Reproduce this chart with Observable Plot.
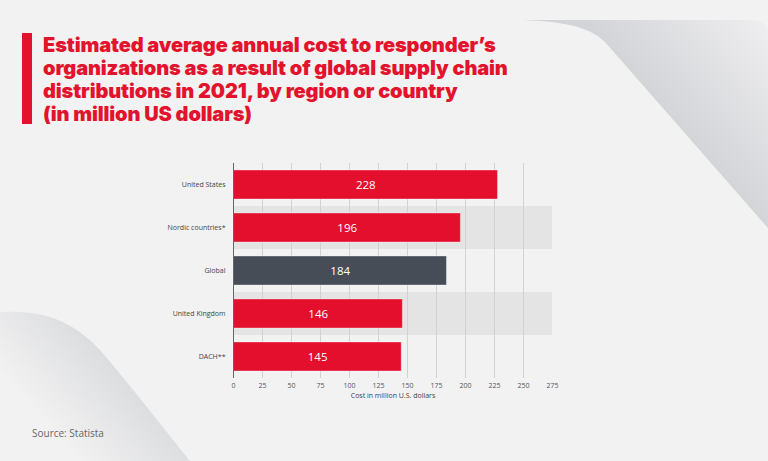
<!DOCTYPE html>
<html>
<head>
<meta charset="utf-8">
<script src="https://cdn.jsdelivr.net/npm/d3@7"></script>
<script src="https://cdn.jsdelivr.net/npm/@observablehq/plot@0.6"></script>
<style>
  html, body { margin: 0; padding: 0; }
  body { width: 768px; height: 461px; background: #f2f2f2; position: relative; overflow: hidden; }
  #bg { position: absolute; left: 0; top: 0; }
  #redbar { position: absolute; left: 22px; top: 33px; width: 10px; height: 91px; background: #e3132d; }
  #title { position: absolute; left: 43px; top: 34px; font-family: Inter, "Noto Sans", sans-serif; font-weight: 900;
    font-size: 20px; line-height: 23px; letter-spacing: -0.12px; color: #e3132d; white-space: nowrap; }
  #chart { position: absolute; left: 0; top: 150px; }
  #source { position: absolute; left: 32px; top: 426px; font-family: "Open Sans", sans-serif; font-size: 10px; color: #666; }
</style>
</head>
<body>
<svg id="bg" width="768" height="461">
  <defs>
    <linearGradient id="g1" gradientUnits="userSpaceOnUse" x1="680" y1="130" x2="790" y2="35">
      <stop offset="0" stop-color="#d3d4d8"/>
      <stop offset="1" stop-color="#f0f0f1"/>
    </linearGradient>
    <linearGradient id="g2" gradientUnits="userSpaceOnUse" x1="130" y1="360" x2="50" y2="430">
      <stop offset="0" stop-color="#d8d9dc"/>
      <stop offset="1" stop-color="#f2f2f2"/>
    </linearGradient>
  </defs>
  <path d="M523,20 C570,22 590,28 605,42 L768,228 L768,36 Q768,20 750,20 Z" fill="url(#g1)"/>
  <path d="M0,312 C40,310 70,318 100,350 C130,385 165,430 190,461 L0,461 Z" fill="url(#g2)"/>
</svg>
<div id="redbar"></div>
<div id="title">Estimated average annual cost to responder’s<br>organizations as a result of global supply chain<br>distributions in 2021, by region or country<br>(in million US dollars)</div>
<div id="chart"></div>
<div id="source">Source: Statista</div>
<script>
const categories = ["United States", "Nordic countries*", "Global", "United Kingdom", "DACH**"];
const values = [228, 196, 184, 146, 145];
const xTicks = [0, 25, 50, 75, 100, 125, 150, 175, 200, 225, 250, 275];
const axisTitle = "Cost in million U.S. dollars";

const data = categories.map((c, i) => ({category: c, value: values[i], highlight: c === "Global", banded: i % 2 === 1}));

const RED = "#e30f2d", GRAY = "#464d57";

const chart = Plot.plot({
  width: 768, height: 260,
  marginLeft: 233, marginRight: 216, marginTop: 13, marginBottom: 32,
  style: {background: "transparent", fontFamily: "'Open Sans', sans-serif", fontSize: "7px", color: "#555"},
  x: {domain: [0, 275], ticks: xTicks, label: null},
  y: {domain: categories, padding: 0, label: null},
  color: {type: "identity"},
  marks: [
    Plot.barX(data.filter(d => d.banded), {y: "category", x1: 0, x2: 275, fill: "#e4e4e4"}),
    Plot.gridX(xTicks.filter(t => t > 0 && t < 275), {stroke: "#d2d2d2", strokeOpacity: 1}),
    Plot.barX(data, {y: "category", x: "value", fill: d => d.highlight ? GRAY : RED, insetTop: 7, insetBottom: 7,
      stroke: "white", strokeOpacity: 0.35, strokeWidth: 1}),
    Plot.text(data, {y: "category", x: d => d.value / 2, text: d => String(d.value), fill: "white", fontSize: 11.5}),
    Plot.ruleX([0], {stroke: "#666"}),
    Plot.axisX({ticks: xTicks, tickSize: 0, tickPadding: 5, label: null, fill: "#555"}),
    Plot.axisY({tickSize: 0, tickPadding: 8, label: null, fill: "#444"}),
    Plot.text([axisTitle], {frameAnchor: "bottom", text: d => d, dy: 19, fill: "#444"})
  ]
});
document.getElementById("chart").appendChild(chart);
</script>
</body>
</html>
